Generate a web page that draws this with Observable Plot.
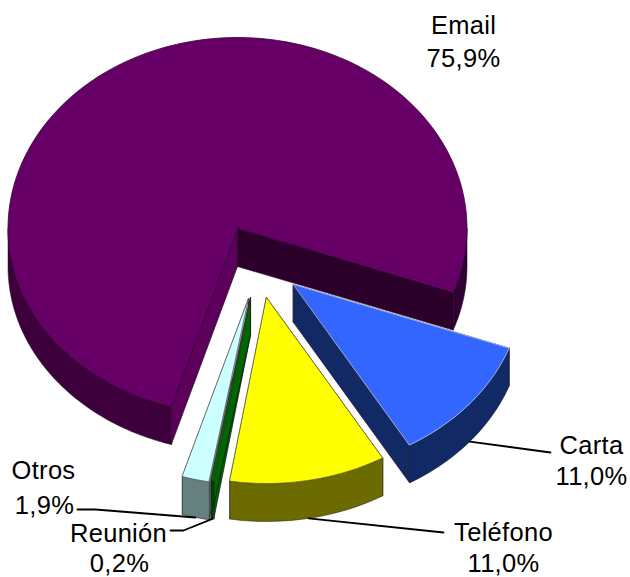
<!DOCTYPE html>
<html>
<head>
<meta charset="utf-8">
<style>html,body{margin:0;padding:0;background:#fff}svg{display:block}</style>
<script src="https://cdn.jsdelivr.net/npm/d3@7"></script>
<script src="https://cdn.jsdelivr.net/npm/@observablehq/plot@0.6"></script>
</head>
<body>
<div id="chart"></div>
<script>
// Data, clockwise from the chart's first slice
const categories = ["Carta", "Teléfono", "Reunión", "Otros", "Email"];
const shares = [11.0, 11.0, 0.2, 1.9, 75.9];

// Colours
const topColors  = ["#3366ff", "#ffff00", "#006600", "#ccffff", "#660066"];
const wallColors = ["#112a66", "#6b6b00", "#004000", "#668080", "#3d003d"];
const startCutColors = ["#112a66", "#6b6b00", "#006600", "#8aa5a5", "#5c005c"];
const endCutColors   = ["#112a66", "#6b6b00", "#006600", "#8aa5a5", "#2b002b"];
const edgeColors = ["#b9c6e6", "#666633", "#333333", "#666666", "#3a003a"];

// Layout of the 3D projection (px in the plot's coordinate space)
const centre = [237, 228];
const rx = 229.5, ryBack = 191, ryFront = 186, depth = 38;
const startAngle = 110;
const offsetX = [56, 29, 13, 11, 0];
const offsetY = [56, 69, 69, 70, 0];

// Label layout
const labelX = [591, 503, 118, 43, 463];
const nameY = [445, 532, 533, 470, 25];
const pctY = [476, 563, 563, 505, 58];
const pctX = [591, 503, 119, 44, 463];
const leaderX = [[550], [443], [183, 170], [95, 77], []];
const leaderY = [[452], [532], [530, 530], [509, 509], []];

const rad = Math.PI / 180;
function rim(i, deg, drop = 0) {
  const c = Math.cos(deg * rad), s = Math.sin(deg * rad);
  return {
    x: centre[0] + offsetX[i] + rx * s,
    y: centre[1] + offsetY[i] - (c > 0 ? ryBack : ryFront) * c + drop
  };
}
function apex(i, drop = 0) {
  return {x: centre[0] + offsetX[i], y: centre[1] + offsetY[i] + drop};
}
function arc(i, a, b, drop = 0) {
  const n = Math.max(2, Math.ceil((b - a) / 1.5));
  return d3.range(n + 1).map(k => rim(i, a + (b - a) * k / n, drop));
}

// Angles from the shares
let running = startAngle;
const slices = categories.map((name, i) => {
  const a = running;
  const b = a + shares[i] * 3.6;
  running = b;
  return {name, i, a, b};
});

const poly = (points, fill, stroke, strokeWidth = 0.8) =>
  Plot.line(points, {x: "x", y: "y", fill, stroke, strokeWidth, curve: "linear-closed"});

function sliceMarks({i, a, b}) {
  const marks = [];
  // Cut faces
  marks.push(poly([apex(i), rim(i, a), rim(i, a, depth), apex(i, depth)], startCutColors[i], "#1a001a", 0.6));
  marks.push(poly([apex(i), rim(i, b), rim(i, b, depth), apex(i, depth)], endCutColors[i], "#1a001a", 0.6));
  // Front-facing parts of the outer wall
  const lo = Math.max(a, 90), hi = Math.min(b, 270);
  if (hi > lo) {
    marks.push(poly([...arc(i, lo, hi), ...arc(i, lo, hi, depth).reverse()], wallColors[i], "#1a1a1a", 0.5));
  }
  const lo2 = Math.max(a, 450), hi2 = Math.min(b, 630);
  if (hi2 > lo2) {
    marks.push(poly([...arc(i, lo2, hi2), ...arc(i, lo2, hi2, depth).reverse()], "#330033", "#1a001a", 0.5));
  }
  // Top face
  marks.push(poly([apex(i), ...arc(i, a, b)], topColors[i], edgeColors[i]));
  return marks;
}

const paintOrder = [4, 0, 3, 2, 1];

const labelRows = categories.flatMap((name, i) => [
  {t: name, x: labelX[i], y: nameY[i]},
  {t: shares[i].toFixed(1).replace(".", ",") + "%", x: pctX[i], y: pctY[i]}
]);

const leaders = slices.flatMap(({i, a, b}) => {
  if (!leaderX[i].length) return [];
  return [[rim(i, (a + b) / 2, depth), ...leaderX[i].map((x, k) => ({x, y: leaderY[i][k]}))]];
});

const plot = Plot.plot({
  width: 630,
  height: 577,
  margin: 0,
  x: {domain: [0, 630], range: [0, 630], axis: null},
  y: {domain: [0, 577], range: [0, 577], axis: null},
  style: {background: "#fff", fontFamily: "'Liberation Sans', Arial, sans-serif", letterSpacing: "0.3px"},
  marks: [
    ...paintOrder.flatMap(i => sliceMarks(slices[i])),
    ...leaders.map(l => Plot.line(l, {x: "x", y: "y", stroke: "#000", strokeWidth: 1.8})),
    Plot.text(labelRows, {x: "x", y: "y", text: "t", fontSize: 25.5, fill: "#000", textAnchor: "middle", lineAnchor: "middle"})
  ]
});
document.getElementById("chart").append(plot);
</script>
</body>
</html>
